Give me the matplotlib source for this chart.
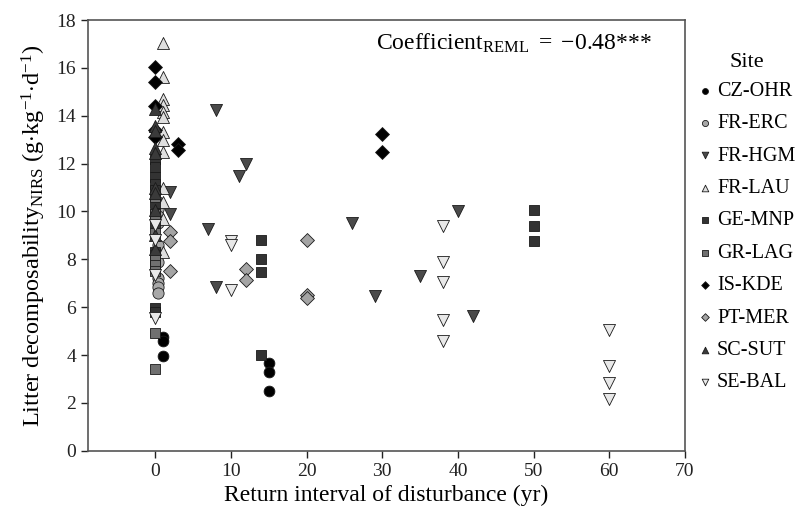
import numpy as np
import matplotlib
matplotlib.use("Agg")
import matplotlib.pyplot as plt

plt.rcParams['font.family'] = ['Liberation Serif', 'DejaVu Serif']
plt.rcParams['mathtext.fontset'] = 'custom'
plt.rcParams['mathtext.rm'] = 'Liberation Serif'
plt.rcParams['mathtext.it'] = 'Liberation Serif:italic'

# site data: return interval (yr) and litter decomposability
czohr_x = [1, 1, 1, 15, 15, 15]
czohr_y = [4.75, 4.6, 3.95, 3.65, 3.3, 2.5]

frerc_x = [0.4, 0.4, 0.4, 0.4, 0.4, 0.4, 0.4, 0.4, 0.4, 0.4]
frerc_y = [10.4, 10.1, 9.8, 9.5, 8.6, 7.9, 7.2, 7.0, 6.85, 6.6]

frhgm_x = [2, 2, 7, 8, 8, 11, 12, 26, 29, 35, 40, 42]
frhgm_y = [10.8, 9.9, 9.25, 6.85, 14.25, 11.5, 12.0, 9.5, 6.45, 7.3, 10.0, 5.65]

frlau_x = [1, 1, 1, 1, 1, 1, 1, 1, 1, 1, 1, 1, 1]
frlau_y = [17.05, 15.6, 14.7, 14.45, 14.15, 13.95, 13.3, 13.0, 12.5, 11.0, 10.4, 9.7, 8.3]

gemnp_x = [0, 0, 0, 0, 0, 0, 0, 0, 0, 0, 0, 0, 14, 14, 14, 14, 50, 50, 50]
gemnp_y = [12.2, 11.85, 11.45, 11.15, 10.9, 10.35, 9.9, 9.5, 8.3, 7.7, 5.95, 5.8,
           8.8, 8.0, 7.45, 4.0, 10.05, 9.4, 8.75]

grlag_x = [0, 0, 0, 0, 0, 0, 0, 0, 0]
grlag_y = [10.6, 9.9, 9.1, 8.2, 8.0, 7.75, 7.5, 4.9, 3.4]

iskde_x = [0, 0, 0, 0, 0, 3, 3, 30, 30]
iskde_y = [16.05, 15.42, 14.4, 13.4, 13.1, 12.8, 12.55, 13.25, 12.5]

ptmer_x = [2, 2, 2, 12, 12, 20, 20, 20]
ptmer_y = [9.15, 8.75, 7.5, 7.6, 7.15, 8.8, 6.5, 6.4]

scsut_x = [0, 0, 0, 0, 0, 0, 0, 0, 0, 0]
scsut_y = [14.3, 13.55, 13.35, 12.65, 12.45, 11.0, 10.75, 10.05, 9.0, 8.45]

sebal_x = [0, 0, 0, 0, 10, 10, 10, 38, 38, 38, 38, 38, 60, 60, 60, 60]
sebal_y = [9.45, 8.8, 7.35, 5.55, 8.75, 8.6, 6.7, 9.4, 7.9, 7.05, 5.45, 4.6,
           5.05, 3.55, 2.85, 2.15]

sites = ['CZ-OHR', 'FR-ERC', 'FR-HGM', 'FR-LAU', 'GE-MNP',
         'GR-LAG', 'IS-KDE', 'PT-MER', 'SC-SUT', 'SE-BAL']
xs = [czohr_x, frerc_x, frhgm_x, frlau_x, gemnp_x, grlag_x, iskde_x, ptmer_x, scsut_x, sebal_x]
ys = [czohr_y, frerc_y, frhgm_y, frlau_y, gemnp_y, grlag_y, iskde_y, ptmer_y, scsut_y, sebal_y]
markers = ['o', 'o', 'v', '^', 's', 's', 'D', 'D', '^', 'v']
colors = ['#000000', '#a8a8a8', '#4a4a4a', '#dedede', '#333333',
          '#707070', '#000000', '#a4a4a4', '#3a3a3a', '#e8e8e8']
sizes = [60, 65, 75, 75, 60, 60, 50, 50, 75, 75]

fig = plt.figure(figsize=(8, 5.13), dpi=100)
ax = fig.add_axes([0.11, 0.1214, 0.746, 0.8396])

for x, y, m, c, s, lab in zip(xs, ys, markers, colors, sizes, sites):
    ax.scatter(x, y, marker=m, s=s, c=c, edgecolors='#1a1a1a', linewidths=0.6,
               label=lab, zorder=3)

ax.set_xlim(-8.9, 70)
ax.set_ylim(0, 18)
ax.set_xticks(np.arange(0, 71, 10))
ax.set_yticks(np.arange(0, 19, 2))
ax.tick_params(direction='out', length=5, width=1, labelsize=14, colors='#222222')
for sp in ax.spines.values():
    sp.set_color('#555555')
    sp.set_linewidth(1.2)

ax.set_xlabel('Return interval of disturbance (yr)', fontsize=17, labelpad=4)
ax.set_ylabel(r'Litter decomposability$_{\mathrm{NIRS}}$ (g$\cdot$kg$^{-1}$$\cdot$d$^{-1}$)',
              fontsize=17.5, labelpad=6)

ax.text(0.945, 0.945, r'Coefficient$_{\mathrm{REML}}$ $=$ $-$0.48***',
        transform=ax.transAxes, ha='right', va='center', fontsize=17)

leg = ax.legend(title='Site', loc='upper left', bbox_to_anchor=(1.0, 0.956),
                frameon=False, fontsize=14.5, title_fontsize=16, markerscale=0.55,
                handlelength=0.6, handletextpad=0.3, labelspacing=0.66,
                borderaxespad=0.3)
leg._legend_box.sep = 7

fig.savefig('out.png', dpi=100)
